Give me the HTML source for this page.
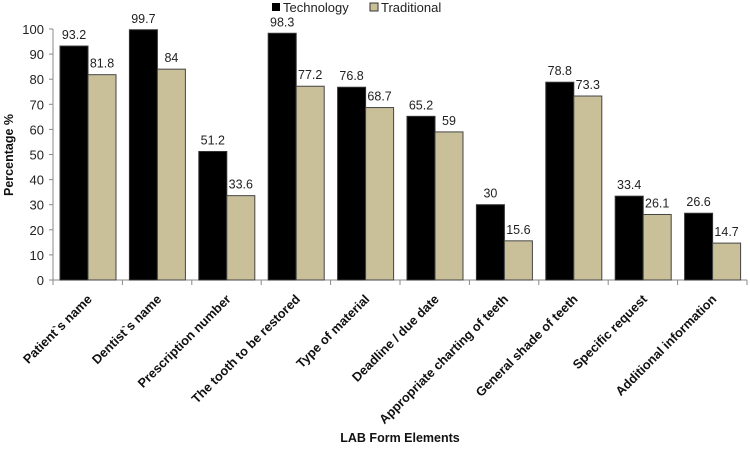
<!DOCTYPE html>
<html><head><meta charset="utf-8"><style>
body{margin:0;background:#fff;}
svg{display:block;font-family:"Liberation Sans",sans-serif;}
</style></head><body>
<svg id="chart" width="750" height="449"></svg>
<script>
const categories=["Patient`s name","Dentist`s name","Prescription number","The tooth to be restored","Type of material","Deadline / due date","Appropriate charting of teeth","General shade of teeth","Specific request","Additional information"];
const technology=[93.2,99.7,51.2,98.3,76.8,65.2,30,78.8,33.4,26.6];
const traditional=[81.8,84,33.6,77.2,68.7,59,15.6,73.3,26.1,14.7];
const yTicks=[0,10,20,30,40,50,60,70,80,90,100];
const svg=document.getElementById('chart');
const NS='http://www.w3.org/2000/svg';
const X0=53,X1=747,Y0=280,Y100=29;
const cw=(X1-X0)/categories.length;
function y(v){return Y0-(Y0-Y100)*v/100;}
function xc(i){return X0+cw*(i+0.5);}
function mk(t,a,txt){const e=document.createElementNS(NS,t);for(const k in a)e.setAttribute(k,a[k]);if(txt!==undefined)e.textContent=txt;svg.appendChild(e);return e;}
let e;
e=mk('line',{x1:X0,y1:Y100,x2:X0,y2:Y0,stroke:'#888','stroke-width':1});


e=mk('line',{x1:X0,y1:Y0,x2:X1,y2:Y0,stroke:'#888','stroke-width':1});


yTicks.forEach(t=>{
 mk('line',{x1:X0-4,y1:y(t),x2:X0,y2:y(t),stroke:'#888'});
 e=mk('text',{x:X0-9,y:y(t)+5,'text-anchor':'end','font-size':13,fill:'#222'},t);
 
 
});
for(let i=0;i<=categories.length;i++){mk('line',{x1:X0+cw*i,y1:Y0,x2:X0+cw*i,y2:Y0+5,stroke:'#888'});}
categories.forEach((c,i)=>{
 const bx=X0+cw*i+7;
 e=mk('rect',{x:bx,y:y(technology[i]),width:28,height:Y0-y(technology[i]),fill:'#000',stroke:'#333'});
 
 
 e=mk('rect',{x:bx+28,y:y(traditional[i]),width:28,height:Y0-y(traditional[i]),fill:'#c9c09a',stroke:'#444'});
 
 
 e=mk('text',{x:bx+14,y:y(technology[i])-7,'text-anchor':'middle','font-size':12.5,fill:'#222'},technology[i]);
 
 
 e=mk('text',{x:bx+42,y:y(traditional[i])-7,'text-anchor':'middle','font-size':12.5,fill:'#222'},traditional[i]);
 
 
 const lx=xc(i)+5,ly=300;
 e=mk('text',{x:lx,y:ly,'text-anchor':'end','font-size':12.8,'font-weight':'bold',fill:'#111',transform:`rotate(-45 ${lx} ${ly})`},c);
 
 
});
e=mk('text',{x:13,y:155,'text-anchor':'middle','font-size':12.5,'font-weight':'bold',fill:'#111',transform:'rotate(-90 13 155)'},'Percentage %');


e=mk('text',{x:400,y:442,'text-anchor':'middle','font-size':12.5,'font-weight':'bold',fill:'#111'},'LAB Form Elements');


e=mk('rect',{x:272,y:3,width:8,height:8,fill:'#000'});


e=mk('text',{x:283,y:12,'font-size':13,fill:'#222'},'Technology');


e=mk('rect',{x:370,y:3,width:8,height:8,fill:'#c9c09a',stroke:'#333'});


e=mk('text',{x:381,y:12,'font-size':13,fill:'#222'},'Traditional');


</script>
</body></html>
